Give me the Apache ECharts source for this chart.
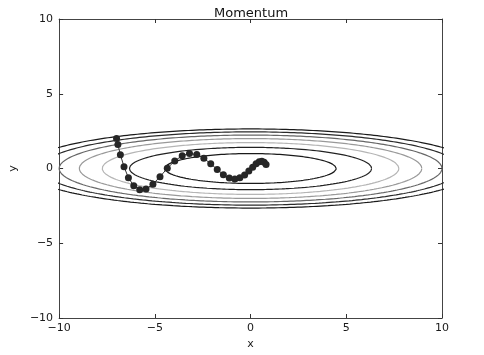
<!DOCTYPE html>
<html>
<head>
<meta charset="utf-8">
<script src="https://cdn.jsdelivr.net/npm/echarts@6/dist/echarts.min.js"></script>
<style>
  html, body { margin: 0; padding: 0; background: #fff; }
  #chart { width: 484px; height: 355px; }
</style>
</head>
<body>
<div id="chart"></div>
<script>
// momentum path
const pathX = [-7.00, -6.93, -6.80, -6.61, -6.38, -6.10, -5.79, -5.46, -5.10, -4.73,
  -4.35, -3.96, -3.57, -3.19, -2.81, -2.44, -2.08, -1.74, -1.42, -1.11,
  -0.82, -0.56, -0.31, -0.09, 0.11, 0.29, 0.45, 0.59, 0.71, 0.81];
const pathY = [2.00, 1.60, 0.92, 0.12, -0.62, -1.16, -1.42, -1.37, -1.05, -0.55,
  0.01, 0.51, 0.86, 1.00, 0.93, 0.68, 0.32, -0.07, -0.41, -0.63,
  -0.70, -0.62, -0.43, -0.17, 0.09, 0.32, 0.45, 0.49, 0.42, 0.27];

// contour levels of f(x, y) = x^2 / 20 + y^2
const levels = [1, 2, 3, 4, 5, 6, 7];
const levelColors = ['#1a1a1a', '#222', '#b5b5b5', '#999', '#666', '#2a2a2a', '#1a1a1a'];

function contour(level) {
  var pts = [];
  var a = Math.sqrt(20 * level), b = Math.sqrt(level);
  for (var i = 0; i <= 360; i++) {
    var t = i / 360 * Math.PI * 2;
    pts.push([a * Math.cos(t), b * Math.sin(t)]);
  }
  return pts;
}

function fmt(v) {
  return String(v).replace('-', '\u2212');
}

var chart = echarts.init(document.getElementById('chart'));

var font = { fontFamily: 'DejaVu Sans', fontSize: 11, color: '#1a1a1a' };
var tick = { inside: true, length: 4, lineStyle: { color: '#333' } };
var line = { onZero: false, lineStyle: { color: '#444', width: 1 } };

var series = levels.map(function(l, i) {
  return {
    type: 'line',
    data: contour(l),
    showSymbol: false,
    clip: true,
    silent: true,
    lineStyle: { color: levelColors[i], width: 1.2 },
    z: 1
  };
});

series.push({
  type: 'line',
  data: pathX.map(function(x, i) { return [x, pathY[i]]; }),
  symbol: 'circle',
  symbolSize: 7,
  itemStyle: { color: '#262626' },
  lineStyle: { color: '#333', width: 1 },
  z: 5
});

chart.setOption({
  animation: false,
  backgroundColor: '#fff',
  title: {
    text: 'Momentum',
    left: 209,
    top: 2,
    textStyle: { fontFamily: 'DejaVu Sans', fontSize: 13, fontWeight: 'normal', color: '#111' }
  },
  grid: { left: 51, top: 19, width: 391, height: 299 },
  xAxis: [{
    type: 'value', min: -10, max: 10, interval: 5,
    name: 'x', nameLocation: 'middle', nameGap: 15,
    nameTextStyle: font,
    axisLine: line, axisTick: tick, splitLine: { show: false },
    axisLabel: Object.assign({ margin: 5, formatter: fmt }, font)
  }, {
    type: 'value', min: -10, max: 10, interval: 5, position: 'top',
    axisLine: line, axisTick: tick, splitLine: { show: false },
    axisLabel: { show: false }
  }],
  yAxis: [{
    type: 'value', min: -10, max: 10, interval: 5,
    name: 'y', nameLocation: 'middle', nameGap: 33,
    nameTextStyle: font,
    axisLine: line, axisTick: tick, splitLine: { show: false },
    axisLabel: Object.assign({ margin: 6, formatter: fmt }, font)
  }, {
    type: 'value', min: -10, max: 10, interval: 5, position: 'right',
    axisLine: line, axisTick: tick, splitLine: { show: false },
    axisLabel: { show: false }
  }],
  series: series
});
</script>
</body>
</html>
